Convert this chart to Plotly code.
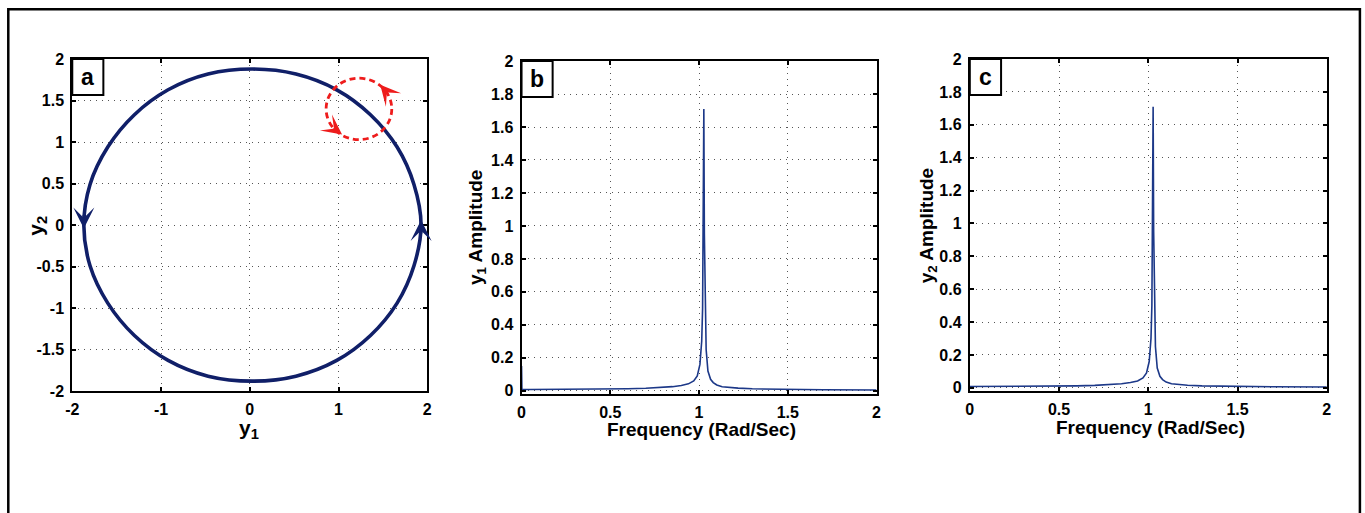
import plotly.graph_objects as go

# ---------------- data ----------------
# panel a: limit-cycle trajectory points (counter-clockwise)
traj_y1 = [1.93, 1.85, 1.66, 1.36, 0.98, 0.52, 0.03, -0.47, -0.92, -1.30, -1.60, -1.80,
           -1.87, -1.80, -1.60, -1.30, -0.92, -0.47, 0.03, 0.52, 0.98, 1.36, 1.66, 1.85, 1.93]
traj_y2 = [0.00, 0.49, 0.94, 1.33, 1.63, 1.82, 1.88, 1.82, 1.63, 1.33, 0.94, 0.49,
           0.00, -0.49, -0.94, -1.33, -1.63, -1.82, -1.88, -1.82, -1.63, -1.33, -0.94, -0.49, 0.00]

# spectra (panels b and c)
freq = [0, 0.002, 0.05, 0.2, 0.4, 0.5, 0.6, 0.7, 0.8, 0.85,
        0.9, 0.94, 0.97, 0.99, 1.005, 1.015, 1.02, 1.024, 1.027, 1.030,
        1.034, 1.04, 1.05, 1.065, 1.08, 1.1, 1.13, 1.17, 1.22, 1.3,
        1.4, 1.5, 1.7, 2.0]
amp_y1 = [0.15, 0.008, 0.008, 0.008, 0.009, 0.01, 0.012, 0.015, 0.02, 0.025,
          0.032, 0.042, 0.06, 0.09, 0.16, 0.3, 0.5, 0.95, 1.71, 0.95,
          0.5, 0.25, 0.12, 0.07, 0.05, 0.035, 0.025, 0.02, 0.016, 0.012,
          0.01, 0.008, 0.006, 0.005]
amp_y2 = [0.008, 0.008, 0.008, 0.008, 0.009, 0.01, 0.012, 0.015, 0.02, 0.025,
          0.032, 0.042, 0.06, 0.09, 0.16, 0.3, 0.5, 0.95, 1.71, 0.95,
          0.5, 0.25, 0.12, 0.07, 0.05, 0.035, 0.025, 0.02, 0.016, 0.012,
          0.01, 0.008, 0.006, 0.005]

a_xticks = [-2, -1, 0, 1, 2]
a_xlabels = ["-2", "-1", "0", "1", "2"]
a_yticks = [-2, -1.5, -1, -0.5, 0, 0.5, 1, 1.5, 2]
a_ylabels = ["-2", "-1.5", "-1", "-0.5", "0", "0.5", "1", "1.5", "2"]
f_xticks = [0, 0.5, 1, 1.5, 2]
f_xlabels = ["0", "0.5", "1", "1.5", "2"]
f_yticks = [0, 0.2, 0.4, 0.6, 0.8, 1, 1.2, 1.4, 1.6, 1.8, 2]
f_ylabels = ["0", "0.2", "0.4", "0.6", "0.8", "1", "1.2", "1.4", "1.6", "1.8", "2"]

# red rotation indicator (center, radius) in panel-a data units
red_cx, red_cy, red_r = 1.23, 1.40, 0.37

# ---------------- figure ----------------
W, H = 1365, 513
# the page shows the figure with an 8px body margin, then scales the whole page to the window
BODY = 8
SX = W / (W + 2 * BODY)
SY = H / (H + 2 * BODY)
NAVY = "#101f68"
SPEC = "#1c3888"
RED = "#ee1c1c"
FONT = "Liberation Sans, Arial, sans-serif"

def px_x(r):
    return (r / SX - BODY) / W

def px_y(r):
    return 1 - (r / SY - BODY) / H

fig = go.Figure()

fig.add_trace(go.Scatter(x=traj_y1, y=traj_y2, mode="lines",
                         line=dict(color=NAVY, width=3.6, shape="spline"),
                         xaxis="x", yaxis="y", showlegend=False, hoverinfo="skip"))
fig.add_trace(go.Scatter(x=freq, y=amp_y1, mode="lines",
                         line=dict(color=SPEC, width=1.6),
                         xaxis="x2", yaxis="y2", showlegend=False))
fig.add_trace(go.Scatter(x=freq, y=amp_y2, mode="lines",
                         line=dict(color=SPEC, width=1.6),
                         xaxis="x3", yaxis="y3", showlegend=False))

tickfont = dict(family=FONT, size=16, color="black", weight="bold")
common = dict(showline=True, linecolor="black", linewidth=2, mirror="ticks",
              ticks="inside", ticklen=4, tickwidth=1.5, tickcolor="black",
              showgrid=True, gridcolor="#555555", griddash="1px,5px", gridwidth=1.3,
              zeroline=False, tickfont=tickfont, ticklabelstandoff=3)

doms = {
    "a": ((px_x(73), px_x(427)), (px_y(392), px_y(59))),
    "b": ((px_x(521), px_x(875)), (px_y(395), px_y(61))),
    "c": ((px_x(968), px_x(1324)), (px_y(392), px_y(59))),
}

fig.update_layout(
    width=W, height=H, margin=dict(l=0, r=0, t=0, b=0),
    paper_bgcolor="white", plot_bgcolor="white",
    xaxis=dict(domain=doms["a"][0], range=[-2, 2], tickvals=a_xticks, ticktext=a_xlabels,
               anchor="y", **common),
    yaxis=dict(domain=doms["a"][1], range=[-2, 2], tickvals=a_yticks, ticktext=a_ylabels,
               anchor="x", **common),
    xaxis2=dict(domain=doms["b"][0], range=[0, 2], tickvals=f_xticks, ticktext=f_xlabels,
                anchor="y2", **common),
    yaxis2=dict(domain=doms["b"][1], range=[-0.02, 2], tickvals=f_yticks, ticktext=f_ylabels,
                anchor="x2", **common),
    xaxis3=dict(domain=doms["c"][0], range=[0, 2], tickvals=f_xticks, ticktext=f_xlabels,
                anchor="y3", **common),
    yaxis3=dict(domain=doms["c"][1], range=[-0.02, 2], tickvals=f_yticks, ticktext=f_ylabels,
                anchor="x3", **common),
)

shapes = []
# outer frame (as close to the window edge as the page allows)
shapes.append(dict(type="rect", xref="paper", yref="paper",
                   x0=1.3 / W, x1=px_x(1357), y0=-0.2, y1=1 - 1.3 / H,
                   line=dict(color="black", width=2.5), layer="above"))
# red dashed rotation circle
shapes.append(dict(type="circle", xref="x", yref="y",
                   x0=red_cx - red_r, x1=red_cx + red_r, y0=red_cy - red_r, y1=red_cy + red_r,
                   line=dict(color=RED, width=2.8, dash="6px,4px")))
# panel label boxes (31 x 36 px)
for xs, ys in [("x", "y"), ("x2", "y2"), ("x3", "y3")]:
    shapes.append(dict(type="rect", xref=f"{xs} domain", yref=f"{ys} domain",
                       x0=0, x1=31 / 354, y0=1 - 36 / 333, y1=1,
                       line=dict(color="black", width=2), fillcolor="white", layer="above"))
fig.update_layout(shapes=shapes)

ann = []
for xs, ys, lab in [("x", "y", "a"), ("x2", "y2", "b"), ("x3", "y3", "c")]:
    ann.append(dict(xref=f"{xs} domain", yref=f"{ys} domain", x=15.5 / 354, y=1 - 18 / 333,
                    text=lab, showarrow=False, xanchor="center", yanchor="middle",
                    font=dict(family=FONT, size=23, color="black", weight="bold")))

titlefont = dict(family=FONT, size=19, color="black", weight="bold")
ann += [
    dict(xref="paper", yref="paper", x=px_x(249), y=px_y(430), text="y<sub>1</sub>",
         showarrow=False, font=dict(family=FONT, size=21, color="black", weight="bold"),
         xanchor="center", yanchor="middle"),
    dict(xref="paper", yref="paper", x=px_x(37), y=px_y(226), text="y<sub>2</sub>",
         showarrow=False, font=dict(family=FONT, size=21, color="black", weight="bold"),
         textangle=-90, xanchor="center", yanchor="middle"),
    dict(xref="paper", yref="paper", x=px_x(476), y=px_y(228), text="y<sub>1</sub> Amplitude",
         showarrow=False, font=titlefont, textangle=-90, xanchor="center", yanchor="middle"),
    dict(xref="paper", yref="paper", x=px_x(926), y=px_y(226), text="y<sub>2</sub> Amplitude",
         showarrow=False, font=titlefont, textangle=-90, xanchor="center", yanchor="middle"),
    dict(xref="paper", yref="paper", x=px_x(700), y=px_y(431), text="Frequency (Rad/Sec)",
         showarrow=False, font=titlefont, xanchor="center", yanchor="middle"),
    dict(xref="paper", yref="paper", x=px_x(1148), y=px_y(429), text="Frequency (Rad/Sec)",
         showarrow=False, font=titlefont, xanchor="center", yanchor="middle"),
]

# direction arrows on trajectory
def arrow(x, y, ax, ay, color, size=1.0, width=2.5):
    return dict(x=x, y=y, ax=ax, ay=ay, xref="x", yref="y", axref="x", ayref="y",
                showarrow=True, arrowhead=3, arrowsize=size, arrowwidth=width,
                arrowcolor=color, text="")

ann.append(arrow(-1.87, -0.04, -1.87, 0.14, NAVY, size=1.4, width=2.5))
ann.append(arrow(1.93, 0.06, 1.93, -0.12, NAVY, size=1.4, width=2.5))
ann.append(arrow(1.47, 1.69, 1.56, 1.58, RED, size=1.4, width=2.4))
ann.append(arrow(1.04, 1.09, 0.94, 1.17, RED, size=1.4, width=2.4))

fig.update_layout(annotations=ann)

fig.write_html("out.html")
